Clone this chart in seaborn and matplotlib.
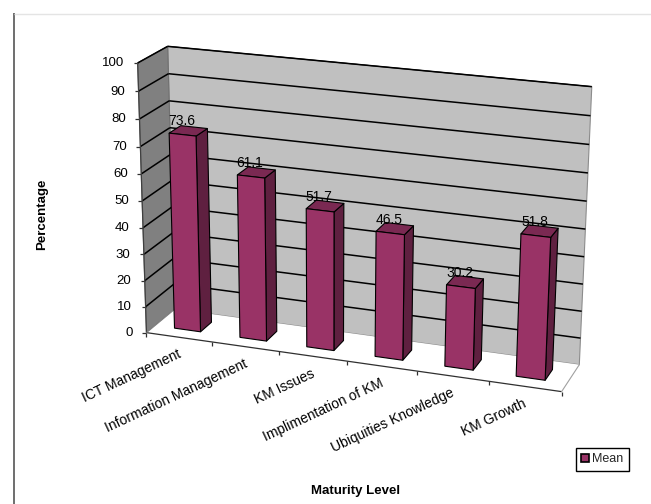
import numpy as np
import matplotlib
matplotlib.use("Agg")
import matplotlib.pyplot as plt
from matplotlib.patches import Patch
from matplotlib.transforms import Affine2D, Transform
import seaborn as sns

categories = ["ICT Management", "Information Management", "KM Issues",
              "Implimentation of KM", "Ubiquities Knowledge", "KM Growth"]
mean_values = [73.6, 61.1, 51.7, 46.5, 30.2, 51.8]
value_ticks = list(range(0, 101, 10))

WIDTH, HEIGHT = 651, 504
FRONT, SIDE, TOP = "#993366", "#5F2040", "#7A2952"
BAR_WIDTH = 0.4
BAR_NEAR, BAR_FAR = 0.3, 0.7

sns.set_theme(style="white")
plt.rcParams["font.family"] = ["Liberation Sans", "DejaVu Sans"]

# Camera for the 3-D box: (category, value, depth) to pixel, solved from the box corners.
box_corners = [
    ((0, 0, 0), (147.3, 331.7)), ((0, 100, 0), (136.7, 63.3)),
    ((0, 0, 1), (174.0, 310.0)), ((0, 100, 1), (168.7, 46.0)),
    ((6, 0, 0), (561.7, 392.3)), ((6, 0, 1), (579.3, 364.0)),
    ((6, 100, 1), (591.7, 86.7)),
]
rows = []
for (c, v, d), (px, py) in box_corners:
    w = [c / 6, v / 100, d, 1]
    rows.append(w + [0, 0, 0, 0] + [-px * t for t in w])
    rows.append([0, 0, 0, 0] + w + [-py * t for t in w])
camera = np.linalg.svd(np.array(rows))[2][-1].reshape(3, 4)


def project(cat, val, depth):
    cat, val = np.asarray(cat, float), np.asarray(val, float)
    h = np.stack([cat / 6, val / 100, np.full_like(cat, depth), np.ones_like(cat)])
    p = camera @ h
    return np.stack([p[0] / p[2], p[1] / p[2]], axis=-1)


class DepthPlane(Transform):
    """Maps seaborn's bar coordinates (position, value) onto a plane of constant depth."""
    input_dims = output_dims = 2
    is_separable = False

    def __init__(self, plane_depth):
        super().__init__()
        self.plane_depth = plane_depth

    def transform_non_affine(self, values):
        values = np.asarray(values, float)
        xy = project(values[:, 0] + 0.5, values[:, 1], self.plane_depth)
        return np.column_stack([xy[:, 0], HEIGHT - xy[:, 1]])


fig = plt.figure(figsize=(WIDTH / 100, HEIGHT / 100), dpi=100, facecolor="white")
ax = fig.add_axes([0, 0, 1, 1])
pixels = Affine2D().scale(1, -1).translate(0, HEIGHT)


def face(corners, color, edge="none", lw=0.0, z=1):
    ax.fill(*np.array(corners).T, facecolor=color, edgecolor=edge, linewidth=lw,
            transform=pixels, zorder=z, clip_on=False, joinstyle="round")


def seg(a, b, color="black", lw=1.0, z=2):
    ax.plot([a[0], b[0]], [a[1], b[1]], color=color, lw=lw, transform=pixels,
            zorder=z, clip_on=False, solid_capstyle="butt")


# Front faces come straight from seaborn, then get moved onto the near plane of the bars.
sns.barplot(x=list(range(6)), y=mean_values, color=FRONT, saturation=1, width=BAR_WIDTH,
            edgecolor="black", linewidth=0.8, ax=ax, native_scale=True)
for patch in ax.patches:
    patch.set_transform(DepthPlane(BAR_NEAR))
    patch.set_zorder(5)
    patch.set_clip_on(False)

# Walls and floor
P = lambda c, v, d: tuple(project(c, v, d))
face([P(0, 0, 1), P(6, 0, 1), P(6, 100, 1), P(0, 100, 1)], "#C0C0C0", "#8C8C8C", 0.8)
face([P(0, 0, 0), P(0, 0, 1), P(0, 100, 1), P(0, 100, 0)], "#808080", "#707070", 0.8)
face([P(0, 0, 0), P(6, 0, 0), P(6, 0, 1), P(0, 0, 1)], "white", "none", 0)
seg(P(0, 100, 0), P(0, 100, 1), "#505050", 0.7)
seg(P(0, 100, 1), P(6, 100, 1), "#303030", 0.7)

# Gridlines and value axis
for v in value_ticks[1:]:
    seg(P(0, v, 0), P(0, v, 1), lw=1.1)
    seg(P(0, v, 1), P(6, v, 1), lw=1.1)
for v in value_ticks:
    a = P(0, v, 0)
    seg(a, (a[0] - 4, a[1]), "#303030", 0.9)
    ax.text(a[0] - 13.5, a[1] + 0.5, str(v), ha="right", va="center", fontsize=9.5,
            color="black", transform=pixels, clip_on=False)
seg(P(0, 0, 0), P(0, 100, 0), "#404040", 0.9)

# Floor edges and category ticks
seg(P(0, 0, 0), P(6, 0, 0), "#303030", 0.9)
seg(P(6, 0, 0), P(6, 0, 1), "#A0A0A0", 0.8)
seg(P(0, 0, 0), P(0, 0, 1), "#808080", 0.8)
for c in range(7):
    a = P(c, 0, 0)
    seg(a, (a[0], a[1] + 4), "#303030", 0.9)
for i, name in enumerate(categories):
    a = P(i + 0.5, 0, 0)
    ax.text(a[0] - 2, a[1] + 10, name, rotation=25, rotation_mode="anchor", ha="right",
            va="top", fontsize=10, color="black", transform=pixels, clip_on=False)

# Side and top faces, with the value printed over each bar
half = BAR_WIDTH / 2
for i, val in enumerate(mean_values):
    lo, hi = i + 0.5 - half, i + 0.5 + half
    face([P(hi, 0, BAR_NEAR), P(hi, 0, BAR_FAR), P(hi, val, BAR_FAR), P(hi, val, BAR_NEAR)],
         SIDE, "black", 0.8, 4)
    face([P(lo, val, BAR_NEAR), P(hi, val, BAR_NEAR), P(hi, val, BAR_FAR), P(lo, val, BAR_FAR)],
         TOP, "black", 0.8, 4)
    a = P(i + 0.5, val, BAR_NEAR)
    ax.text(a[0] - 1, a[1] - 13.5, f"{val:g}", ha="center", va="center", fontsize=10,
            color="black", transform=pixels, zorder=6, clip_on=False)

# Axis titles
ax.text(42.5, 214, "Percentage", rotation=90, ha="center", va="center", fontsize=9.5,
        fontweight="bold", color="black", transform=pixels)
ax.text(356, 491, "Maturity Level", ha="center", va="center", fontsize=9.5,
        fontweight="bold", color="black", transform=pixels)

# Legend
ax.legend(handles=[Patch(facecolor=FRONT, edgecolor="black", linewidth=1.2, label="Mean")],
          loc="center", bbox_to_anchor=(602.2, 459.5), bbox_transform=pixels, fontsize=9,
          frameon=True, fancybox=False, edgecolor="black", framealpha=1, handlelength=0.6,
          handleheight=0.6, handletextpad=0.25, borderpad=0.45, borderaxespad=0)

# Page rules around the chart
seg((13.5, 13), (13.5, HEIGHT), "#555555", 1.2)
seg((13.5, 13.5), (WIDTH, 13.5), "#E4E4E4", 1.0)

ax.set_xlim(0, 1)
ax.set_ylim(0, 1)
ax.axis("off")
fig.savefig("out.png", dpi=100, facecolor="white")
